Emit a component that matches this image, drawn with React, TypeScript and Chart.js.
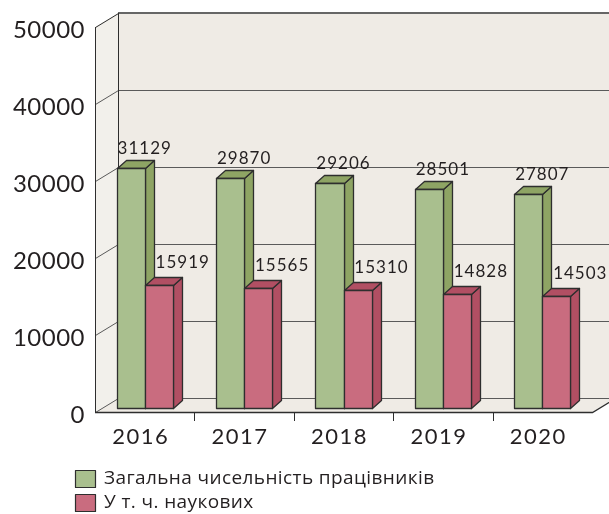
import React, { useEffect, useRef } from "react";
import { Chart, registerables } from "chart.js";

Chart.register(...registerables);

// ---------- data ----------
const categories = ["2016", "2017", "2018", "2019", "2020"];
const totalStaff = [31129, 29870, 29206, 28501, 27807];
const scientificStaff = [15919, 15565, 15310, 14828, 14503];
const seriesNames = ["Загальна чисельність працівників", "У т. ч. наукових"];
const yTickValues = [0, 10000, 20000, 30000, 40000, 50000];
const yTickLabels = ["0", "10000", "20000", "30000", "40000", "50000"];

// ---------- styles ----------
const W = 609;
const H = 514;
const DEPTH_X = 23;
const DEPTH_Y = -14;
const BAR_DX = 9;
const BAR_DY = -8;
const BAR_SHIFT_Y = -4;
const WALL = "#efebe5";
const SIDE_WALL = "#f2f0eb";
const GRID = "#5a5a5a";
const EDGE = "#2e2e2e";
const TEXT = "#231f20";
const FRONT = ["#a9bf8e", "#c96c7f"];
const SIDE = ["#8ea464", "#b14f63"];
const LABEL_DX = [14, 24];
const LABEL_DY = [-12, -15];
const NUM_FONT = "Lato, 'Open Sans', sans-serif";
const TXT_FONT = "'Open Sans', 'Noto Sans', sans-serif";

const crisp = (v: number) => Math.round(v) + 0.5;

const line = (ctx: CanvasRenderingContext2D, pts: number[][]) => {
  ctx.beginPath();
  pts.forEach((p, i) => (i === 0 ? ctx.moveTo(p[0], p[1]) : ctx.lineTo(p[0], p[1])));
  ctx.stroke();
};

const poly = (ctx: CanvasRenderingContext2D, pts: number[][], fill: string, stroke?: string) => {
  ctx.beginPath();
  pts.forEach((p, i) => (i === 0 ? ctx.moveTo(p[0], p[1]) : ctx.lineTo(p[0], p[1])));
  ctx.closePath();
  ctx.fillStyle = fill;
  ctx.fill();
  if (stroke) {
    ctx.strokeStyle = stroke;
    ctx.stroke();
  }
};

const threeDPlugin = {
  id: "threeD",
  beforeDatasetsDraw(chart: any) {
    const ctx: CanvasRenderingContext2D = chart.ctx;
    const { left, right, top, bottom } = chart.chartArea;
    const ys = chart.scales.y;
    const xs = chart.scales.x;
    ctx.save();
    const L = Math.round(left), R = Math.round(right), T = Math.round(top), B = Math.round(bottom);
    // walls
    poly(ctx, [[L + DEPTH_X, T + DEPTH_Y], [R + DEPTH_X, T + DEPTH_Y], [R + DEPTH_X, B + DEPTH_Y], [L + DEPTH_X, B + DEPTH_Y]], WALL);
    poly(ctx, [[L, T], [L + DEPTH_X, T + DEPTH_Y], [L + DEPTH_X, B + DEPTH_Y], [L, B]], SIDE_WALL);
    poly(ctx, [[L, B], [R, B], [R + DEPTH_X, B + DEPTH_Y], [L + DEPTH_X, B + DEPTH_Y]], WALL);

    // grid lines
    ctx.lineWidth = 1;
    ctx.strokeStyle = GRID;
    yTickValues.forEach((v) => {
      const py = Math.round(ys.getPixelForValue(v));
      if (v === 50000) {
        ctx.strokeStyle = "#666";
        ctx.lineWidth = 2;
        line(ctx, [[L + DEPTH_X, py + DEPTH_Y], [R + DEPTH_X + 2, py + DEPTH_Y]]);
        ctx.lineWidth = 1;
        ctx.strokeStyle = EDGE;
        line(ctx, [[L + 0.5, py + 0.5], [L + DEPTH_X + 0.5, py + DEPTH_Y + 0.5]]);
        ctx.strokeStyle = GRID;
      } else {
        line(ctx, [[L + 0.5, py + 0.5], [L + DEPTH_X + 0.5, py + DEPTH_Y + 0.5], [R + DEPTH_X + 2, py + DEPTH_Y + 0.5]]);
      }
    });

    // edges
    ctx.strokeStyle = EDGE;
    ctx.lineWidth = 1;
    line(ctx, [[L + 0.5, T], [L + 0.5, B + 0.5]]);
    line(ctx, [[L + DEPTH_X + 0.5, T + DEPTH_Y], [L + DEPTH_X + 0.5, B + DEPTH_Y + 0.5]]);
    ctx.lineWidth = 1.3;
    line(ctx, [[L, B + 0.5], [R + 0.5, B + 0.5], [R + DEPTH_X + 0.5, B + DEPTH_Y + 0.5]]);
    ctx.lineWidth = 1;

    // category separator ticks
    for (let i = 1; i < categories.length; i++) {
      const px = crisp((xs.getPixelForValue(i - 1) + xs.getPixelForValue(i)) / 2);
      line(ctx, [[px, B], [px, B + 9]]);
    }

    // y tick labels
    ctx.fillStyle = TEXT;
    ctx.font = `24px ${NUM_FONT}`;
    (ctx as any).letterSpacing = "0.5px";
    ctx.textAlign = "right";
    ctx.textBaseline = "middle";
    yTickValues.forEach((v, i) => {
      const py = ys.getPixelForValue(v);
      ctx.fillText(yTickLabels[i], 85, py + 3);
    });

    // x labels
    ctx.font = `22px ${NUM_FONT}`;
    (ctx as any).letterSpacing = "1.5px";
    ctx.textAlign = "center";
    categories.forEach((c, i) => {
      const px = xs.getPixelForValue(i);
      ctx.fillText(c, px - 4, B + 25);
    });
    (ctx as any).letterSpacing = "0px";
    ctx.restore();
  },
  afterDatasetsDraw(chart: any) {
    const ctx: CanvasRenderingContext2D = chart.ctx;
    ctx.save();
    ctx.lineJoin = "round";
    const metas = [chart.getDatasetMeta(0), chart.getDatasetMeta(1)];
    const labels: { text: string; x: number; y: number }[] = [];
    for (let i = 0; i < categories.length; i++) {
      metas.forEach((meta: any, d: number) => {
        const el = meta.data[i];
        const p = el.getProps(["x", "y", "base", "width"], true);
        const l = Math.round(p.x - p.width / 2) + 0.5;
        const r = Math.round(p.x + p.width / 2) + 0.5;
        const t = Math.round(p.y + BAR_SHIFT_Y) + 0.5;
        const b = Math.round(p.base + BAR_SHIFT_Y) + 0.5;
        ctx.lineWidth = 1.3;
        poly(ctx, [[r, t], [r + BAR_DX, t + BAR_DY], [r + BAR_DX, b + BAR_DY], [r, b]], SIDE[d], EDGE);
        poly(ctx, [[l, t], [l + BAR_DX, t + BAR_DY], [r + BAR_DX, t + BAR_DY], [r, t]], SIDE[d], EDGE);
        poly(ctx, [[l, t], [r, t], [r, b], [l, b]], FRONT[d], EDGE);
        const v = chart.data.datasets[d].data[i];
        labels.push({ text: String(v), x: p.x + LABEL_DX[d], y: t + BAR_DY + LABEL_DY[d] });
      });
    }
    ctx.fillStyle = TEXT;
    ctx.font = `17px ${NUM_FONT}`;
    (ctx as any).letterSpacing = "1px";
    ctx.textAlign = "center";
    ctx.textBaseline = "middle";
    labels.forEach((lb) => ctx.fillText(lb.text, lb.x, lb.y));

    // legend
    ctx.font = `19px ${TXT_FONT}`;
    (ctx as any).letterSpacing = "0.4px";
    ctx.textAlign = "left";
    ctx.lineWidth = 1.2;
    const legendY = [470, 494];
    seriesNames.forEach((name, d) => {
      ctx.fillStyle = FRONT[d];
      ctx.fillRect(75.5, legendY[d] + 0.5, 20, 17);
      ctx.strokeStyle = EDGE;
      ctx.strokeRect(75.5, legendY[d] + 0.5, 20, 17);
      ctx.fillStyle = TEXT;
      ctx.fillText(name, 104, legendY[d] + 9);
    });
    (ctx as any).letterSpacing = "0px";
    ctx.restore();
  },
};

export default function App() {
  const ref = useRef<HTMLCanvasElement | null>(null);
  useEffect(() => {
    if (!ref.current) return;
    const chart = new Chart(ref.current, {
      type: "bar",
      data: {
        labels: categories,
        datasets: [
          { label: seriesNames[0], data: totalStaff, backgroundColor: "rgba(0,0,0,0)", borderWidth: 0 },
          { label: seriesNames[1], data: scientificStaff, backgroundColor: "rgba(0,0,0,0)", borderWidth: 0 },
        ],
      },
      options: {
        responsive: false,
        animation: false,
        devicePixelRatio: 1,
        layout: { padding: { left: 95, right: 17, top: 27, bottom: 102 } },
        datasets: { bar: { categoryPercentage: 0.5634, barPercentage: 1 } },
        scales: {
          x: { display: false },
          y: { display: false, min: 0, max: 50000 },
        },
        plugins: { legend: { display: false }, tooltip: { enabled: false } },
      },
      plugins: [threeDPlugin],
    } as any);
    return () => chart.destroy();
  }, []);
  return (
    <div style={{ position: "absolute", left: 0, top: 0, width: W, height: H, background: "#fff" }}>
      <canvas ref={ref} width={W} height={H} style={{ display: "block" }} />
    </div>
  );
}
